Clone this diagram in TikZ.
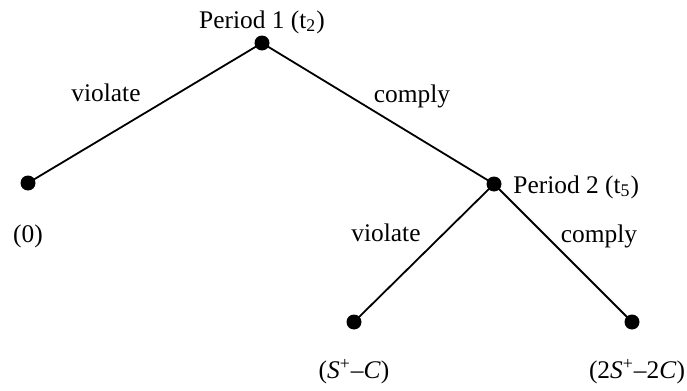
\documentclass[tikz,border=0pt]{standalone}
\usepackage{fontspec}
\setmainfont{Liberation Serif}
\usepackage{tikz}
\usetikzlibrary{positioning}

\begin{document}
\begin{tikzpicture}[x=0.5pt, y=-0.5pt,
  dot/.style={circle, fill=black, inner sep=0pt, minimum size=7.5pt},
  lbl/.style={inner sep=0pt, font=\fontsize{12.7pt}{15pt}\selectfont},
  edge/.style={line width=0.9pt}
]
\useasboundingbox (0,0) rectangle (687,391);
% decision points
\node[dot] (p1) at (262,43) {};
\node[dot] (p2) at (494,184) {};
% end points
\node[dot] (l0) at (28,183) {};
\node[dot] (l1) at (354,322) {};
\node[dot] (l2) at (632,322) {};
\draw[edge] (p1.center) -- (l0.center);
\draw[edge] (p1.center) -- (p2.center);
\draw[edge] (p2.center) -- (l1.center);
\draw[edge] (p2.center) -- (l2.center);
% texts
\node[lbl] (t1) at (262,22) {Period 1 (t\textsubscript{2})};
\node[lbl, anchor=west] (t2) at (513,187) {Period 2 (t\textsubscript{5})};
\node[lbl] (v1) at (106,93) {violate};
\node[lbl] (c1) at (412,96) {comply};
\node[lbl] (v2) at (386,233) {violate};
\node[lbl] (c2) at (599,236) {comply};
\node[lbl] (o0) at (28,236) {(0)};
\node[lbl] (o1) at (354,372) {(\textit{S}\textsuperscript{+}–\textit{C})};
\node[lbl] (o2) at (637,372) {(2\textit{S}\textsuperscript{+}–2\textit{C})};
\end{tikzpicture}
\end{document}
